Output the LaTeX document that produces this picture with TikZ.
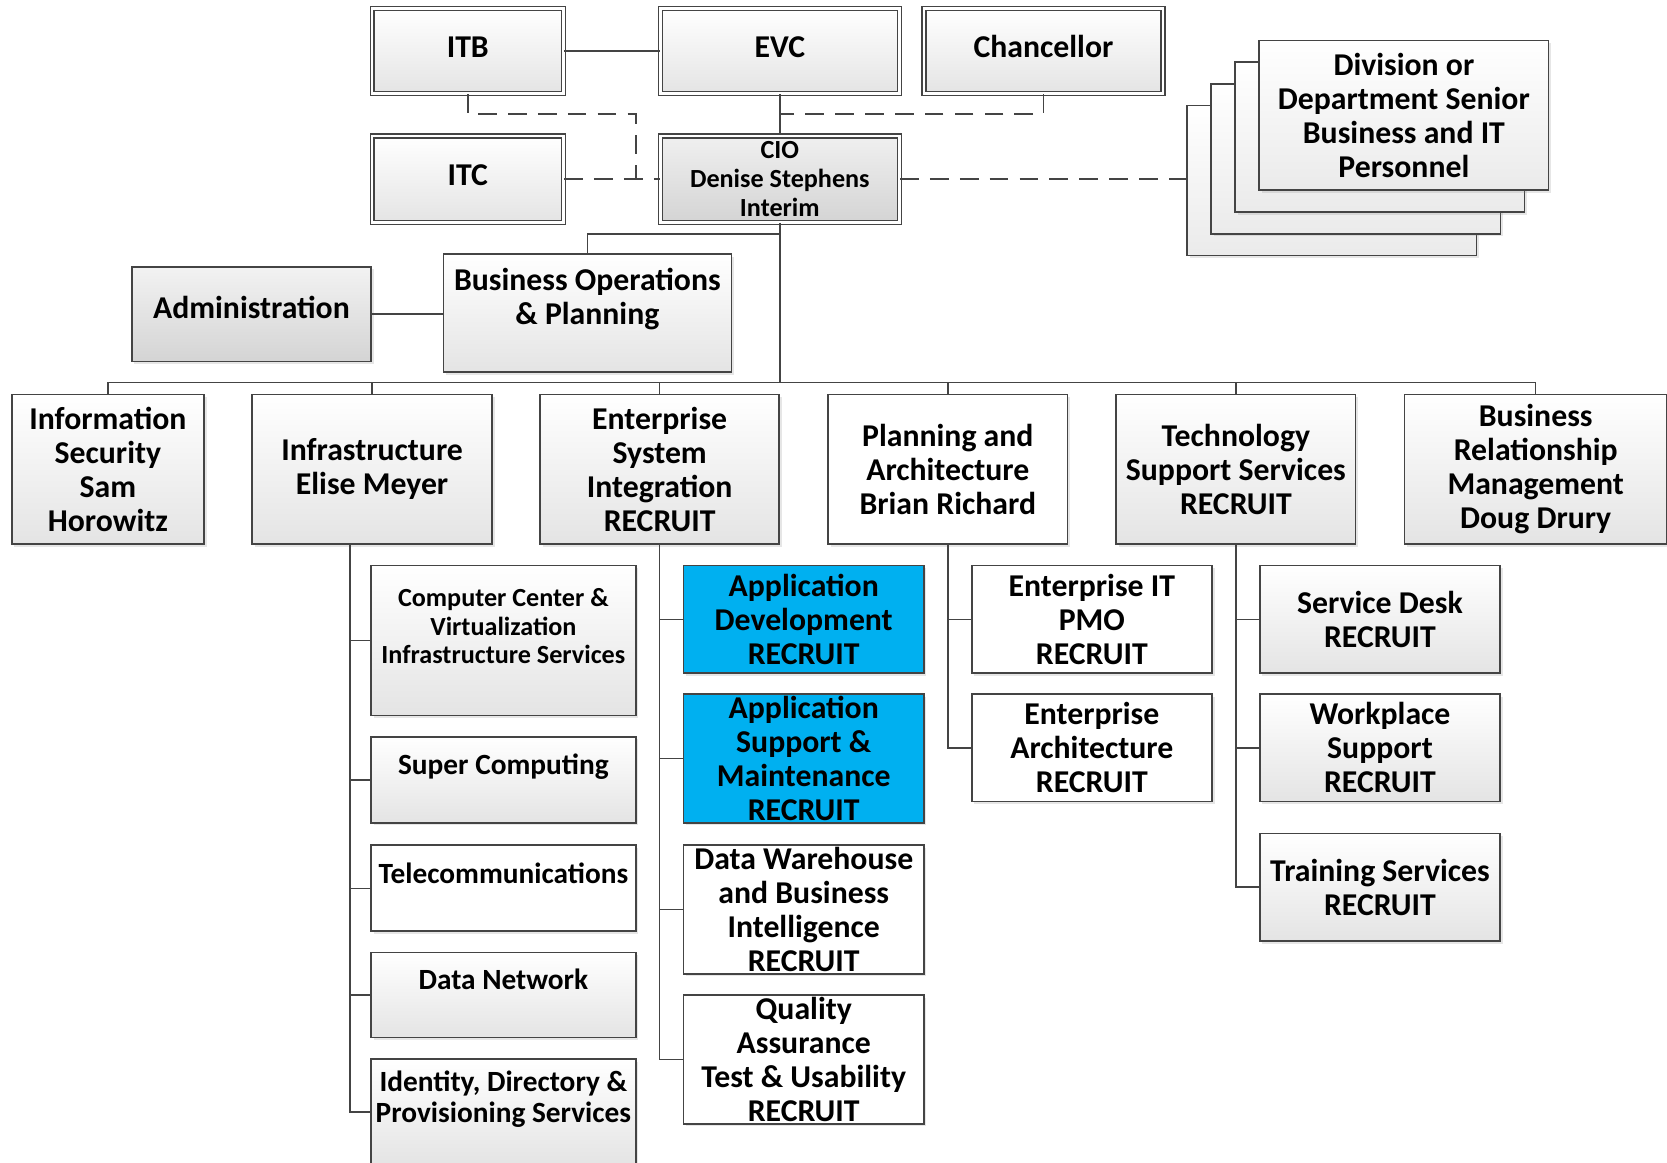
\documentclass[tikz,border=0pt]{standalone}
\usepackage{fontspec}
\setmainfont{Carlito}
\usetikzlibrary{shadows}
\definecolor{edge}{RGB}{68,68,68}
\definecolor{appblue}{RGB}{0,176,240}
\definecolor{shade}{RGB}{228,228,228}
\definecolor{darkshade}{RGB}{212,212,212}
\begin{document}
\begin{tikzpicture}[x=0.02cm,y=-0.02cm,
 box/.style={draw=edge,line width=0.9pt,inner sep=0pt,align=center,font=\bfseries\fontsize{17}{18.2}\selectfont,drop shadow={shadow xshift=1.4pt,shadow yshift=-1.4pt,opacity=0.2}},
 grad/.style={box,top color=white,bottom color=shade},
 plain/.style={box,fill=white},
 appbox/.style={box,fill=appblue},
 dbl/.style={grad,double=white,double distance=1.4pt,line width=0.7pt},
 smalltext/.style={font=\bfseries\fontsize{14}{15.4}\selectfont},
 midtext/.style={font=\bfseries\fontsize{15.7}{16.5}\selectfont},
 link/.style={draw=edge,line width=0.8pt},
 dlink/.style={link,dash pattern=on 10pt off 6pt}]
\useasboundingbox (0,0) rectangle (1568,1093);
\clip (0,0) rectangle (1568,1093);
\node[dbl,text depth=4.5pt,minimum width=3.6cm,minimum height=1.6cm] (itb) at (440,48) {ITB};
\node[dbl,text depth=4.5pt,minimum width=4.5cm,minimum height=1.6cm] (evc) at (733.5,48) {EVC};
\node[dbl,text depth=4.5pt,minimum width=4.5cm,minimum height=1.6cm] (chan) at (981.5,48) {Chancellor};
\node[dbl,text depth=4.5pt,minimum width=3.6cm,minimum height=1.62cm] (itc) at (440,168.5) {ITC};
\node[dbl,smalltext,top color=black!6,bottom color=darkshade,minimum width=4.5cm,minimum height=1.62cm] (cio) at (733.5,168.5) {CIO\\Denise Stephens\\Interim};
\foreach \k in {3,2,1}
  \node[grad,bottom color=black!8,minimum width=5.44cm,minimum height=2.82cm] (div\k) at ({1320.5-22.6*\k},{108.5+20.4*\k}) {};
\node[grad,bottom color=black!8,minimum width=5.44cm,minimum height=2.82cm] (div) at (1320.5,108.5) {Division or\\Department Senior\\Business and IT\\Personnel};
\node[grad,text depth=6.8pt,top color=black!5,bottom color=darkshade,minimum width=4.5cm,minimum height=1.78cm] (admin) at (236.5,295.5) {Administration};
\node[grad,minimum width=5.42cm,minimum height=2.22cm] (busops) at (552.5,294.5) {Business Operations\\\& Planning\\~};
\node[grad,minimum width=3.62cm,minimum height=2.82cm] (infosec) at (101.5,441.5) {Information\\Security\\Sam\\Horowitz};
\node[grad,minimum width=4.52cm,minimum height=2.82cm] (infra) at (350,441.5) {Infrastructure\\Elise Meyer};
\node[grad,minimum width=4.5cm,minimum height=2.82cm] (esi) at (620.5,441.5) {Enterprise\\System\\Integration\\RECRUIT};
\node[plain,minimum width=4.5cm,minimum height=2.82cm] (planarch) at (891.5,441.5) {Planning and\\Architecture\\Brian Richard};
\node[grad,minimum width=4.5cm,minimum height=2.82cm] (tss) at (1162.5,441.5) {Technology\\Support Services\\RECRUIT};
\node[grad,minimum width=4.94cm,minimum height=2.82cm] (brm) at (1444.5,441.5) {Business\\Relationship\\Management\\Doug Drury};
\node[grad,smalltext,minimum width=4.98cm,minimum height=2.82cm] (cc) at (473.5,602.5) {Computer Center \&\\Virtualization\\Infrastructure Services\\~};
\node[grad,midtext,minimum width=4.98cm,minimum height=1.62cm] (sc) at (473.5,733.5) {Super Computing\\~};
\node[plain,midtext,minimum width=4.98cm,minimum height=1.62cm] (tel) at (473.5,835.5) {Telecommunications\\~};
\node[grad,midtext,minimum width=4.98cm,minimum height=1.6cm] (dn) at (473.5,936) {Data Network\\~};
\node[grad,midtext,minimum width=4.98cm,minimum height=2cm] (idm) at (473.5,1046) {Identity, Directory \&\\Provisioning Services\\~};
\node[appbox,minimum width=4.52cm,minimum height=2.02cm] (appdev) at (756,582.5) {Application\\Development\\RECRUIT};
\node[appbox,minimum width=4.52cm,minimum height=2.42cm] (appsup) at (756,713.5) {Application\\Support \&\\Maintenance\\RECRUIT};
\node[plain,minimum width=4.52cm,minimum height=2.42cm] (dwbi) at (756,855.5) {Data Warehouse\\and Business\\Intelligence\\RECRUIT};
\node[plain,minimum width=4.52cm,minimum height=2.42cm] (qa) at (756,996.5) {Quality\\Assurance\\Test \& Usability\\RECRUIT};
\node[plain,minimum width=4.52cm,minimum height=2.02cm] (pmo) at (1027,582.5) {Enterprise IT\\PMO\\RECRUIT};
\node[plain,minimum width=4.52cm,minimum height=2.02cm] (entarch) at (1027,703.5) {Enterprise\\Architecture\\RECRUIT};
\node[grad,minimum width=4.52cm,minimum height=2.02cm] (sdesk) at (1298,582.5) {Service Desk\\RECRUIT};
\node[grad,minimum width=4.52cm,minimum height=2.02cm] (wplace) at (1298,703.5) {Workplace\\Support\\RECRUIT};
\node[grad,minimum width=4.52cm,minimum height=2.02cm] (train) at (1298,834.5) {Training Services\\RECRUIT};
\coordinate (itbknee) at (598,107);
\coordinate (cioknee) at (733.5,220);
\coordinate (bus) at (733.5,360);
\coordinate (infratrunk) at ([xshift=-0.42cm]infra.south);
\draw[link] (itb) -- (evc);
\draw[link] (evc) -- (cio);
\draw[dlink] (itb.south) |- (itbknee) -- (itbknee |- cio.west);
\draw[dlink] (itc) -- (cio);
\draw[dlink] (chan.south) |- (evc.south |- itbknee);
\draw[dlink] (cio) -- (cio -| div3.west);
\draw[link] (cio) -- (bus);
\draw[link] (busops) |- (cioknee);
\draw[link] (admin) -- (admin -| busops.west);
\foreach \n in {infosec,infra,esi,planarch,tss,brm} \draw[link] (\n) |- (bus);
\foreach \n in {cc,sc,tel,dn,idm} \draw[link] (infratrunk) |- (\n);
\foreach \n in {appdev,appsup,dwbi,qa} \draw[link] (esi) |- (\n);
\foreach \n in {pmo,entarch} \draw[link] (planarch) |- (\n);
\foreach \n in {sdesk,wplace,train} \draw[link] (tss) |- (\n);
\end{tikzpicture}
\end{document}
